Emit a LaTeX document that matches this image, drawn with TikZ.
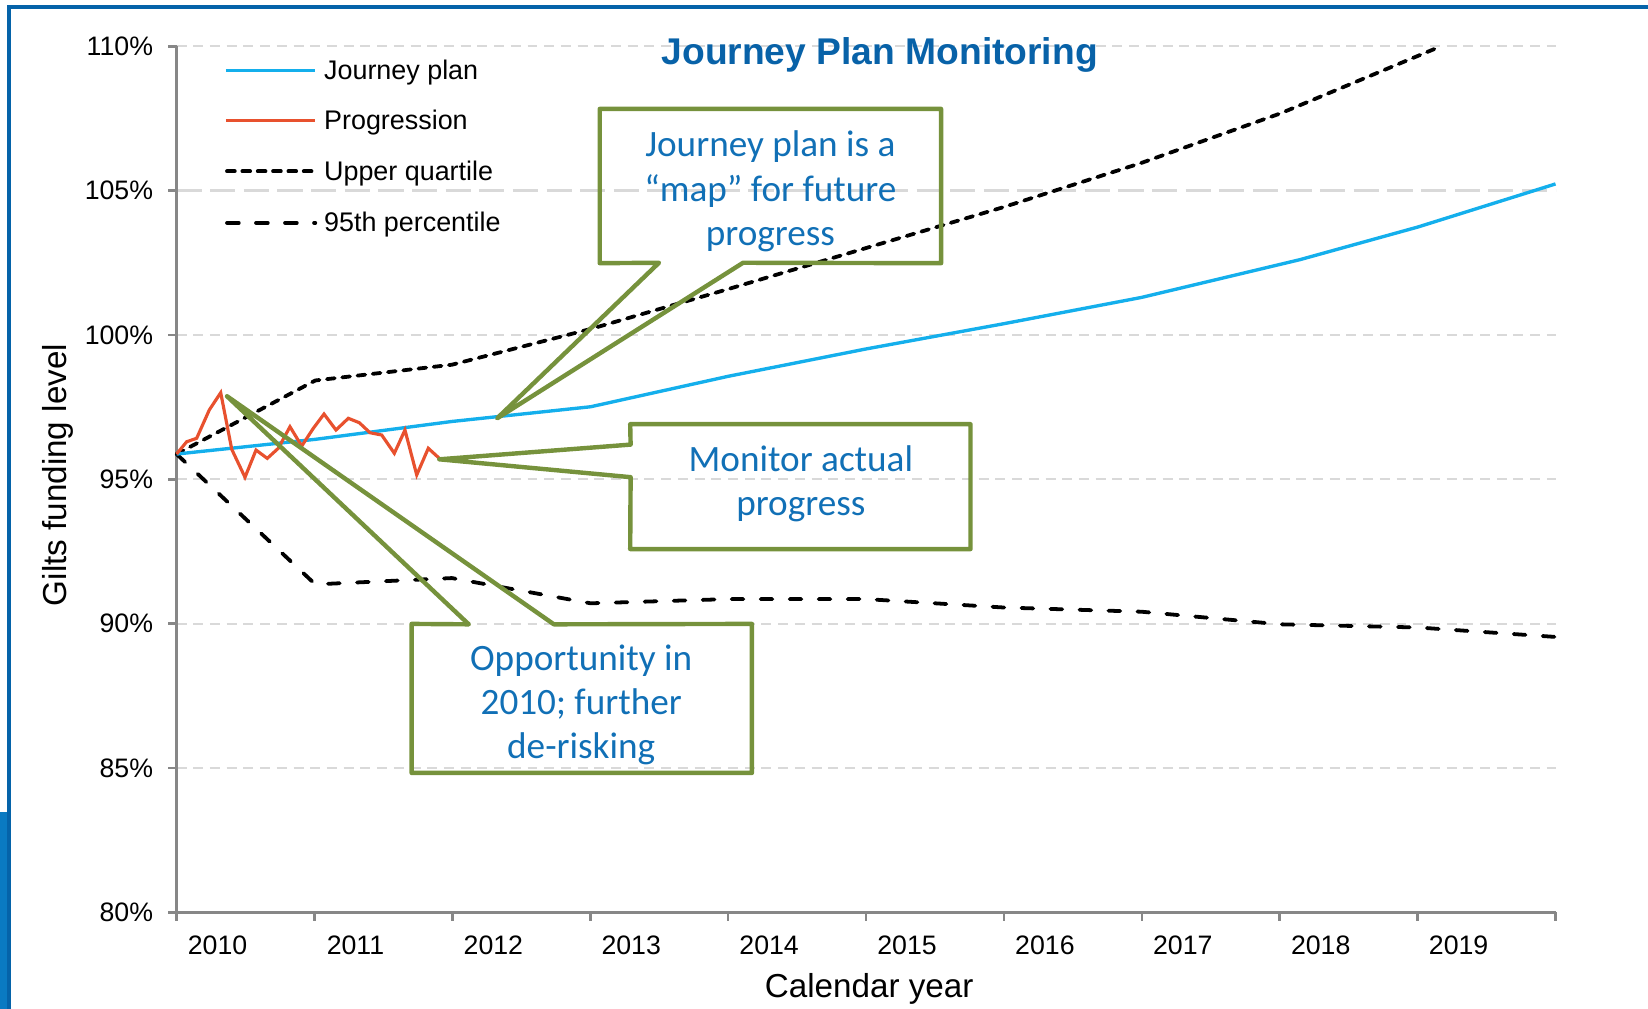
\documentclass[tikz,border=0pt]{standalone}
\usepackage{fontspec}
\setmainfont{Liberation Sans}
\newfontfamily\calib{Carlito}
\definecolor{frameblue}{HTML}{0563A9}
\definecolor{framefill}{HTML}{0A7AC2}
\definecolor{titleblue}{HTML}{0862A8}
\definecolor{textblue}{HTML}{1170B6}
\definecolor{jpblue}{HTML}{14AFEC}
\definecolor{progred}{HTML}{E8512E}
\definecolor{callgreen}{HTML}{76923C}
\definecolor{gridgray}{HTML}{D9D9D9}
\definecolor{axisgray}{HTML}{878787}
\tikzset{
  gridln/.style={draw=gridgray, line width=0.95pt, dash pattern=on 4.75pt off 3.2pt},
  gridlong/.style={draw=gridgray, line width=1.4pt, dash pattern=on 12pt off 4pt},
  axisln/.style={draw=axisgray, line width=1.2pt},
  ticklbl/.style={font=\fontsize{12.7}{15}\selectfont, inner sep=0pt},
  axttl/.style={font=\fontsize{15.8}{18}\selectfont, inner sep=0pt},
  jpline/.style={draw=jpblue, line width=1.6pt, line join=round},
  progline/.style={draw=progred, line width=1.5pt, line join=miter},
  uqline/.style={draw=black, line width=1.8pt, line cap=round, dash pattern=on 3.7pt off 3.6pt},
  pctline/.style={draw=black, line width=1.8pt, line cap=round, dash pattern=on 5.6pt off 8.2pt},
  cbox/.style={fill=none, draw=none, inner sep=0pt},
  cline/.style={draw=callgreen, line width=2.1pt, line join=round},
  ctext/.style={font=\calib\fontsize{17.7}{21}\selectfont, text=textblue, align=center, inner sep=0pt},
  legtext/.style={font=\fontsize{12.8}{15}\selectfont, anchor=west, inner sep=0pt},
}
\begin{document}
\begin{tikzpicture}[x=0.5pt,y=-0.5pt]
\useasboundingbox (0,0) rectangle (1568,960);
% frame
\fill[framefill] (0,773) rectangle (8,960);
\draw[frameblue, line width=1.75pt] (8.7,960) -- (8.7,6.5) -- (1568,6.5);
% grid
\foreach \yy in {44,318.7,456,593.3,730.7} {\draw[gridln] (168,\yy) -- (1480,\yy);}
\draw[gridlong] (168,181.3) -- (1480,181.3);
% axes
\draw[axisln] (168,44) -- (168,876);
\draw[axisln] (160,868) -- (1480,868);
\foreach \yy in {44,181.3,318.7,456,593.3,730.7} {\draw[axisln] (160,\yy) -- (168,\yy);}
\foreach \k in {1,...,10} {\draw[axisln] ({168+131.2*\k},868) -- ({168+131.2*\k},876);}
% y labels
\node[ticklbl, anchor=east] (y110) at (146,44) {110\%};
\node[ticklbl, anchor=east] (y105) at (146,181.3) {105\%};
\node[ticklbl, anchor=east] (y100) at (146,318.7) {100\%};
\node[ticklbl, anchor=east] (y95) at (146,456) {95\%};
\node[ticklbl, anchor=east] (y90) at (146,593.3) {90\%};
\node[ticklbl, anchor=east] (y85) at (146,730.7) {85\%};
\node[ticklbl, anchor=east] (y80) at (146,868) {80\%};
% x labels
\foreach \k/\yr in {0/2010,1/2011,2/2012,3/2013,4/2014,5/2015,6/2016,7/2017,8/2018,9/2019} {
  \node[ticklbl] (x\yr) at ({207+131.2*\k},899) {\yr};
}
\node[axttl] (xttl) at (827,941) {Calendar year};
\node[axttl, rotate=90] (yttl) at (55,452) {Gilts funding level};
% data
\draw[pctline] (168,432) -- (300,556) -- (430,550) -- (562,574) -- (693,570) -- (824,570) -- (955,578) -- (1086,582) -- (1218,594) -- (1349,597) -- (1480,606);
\draw[uqline] (168,432) -- (300,362) -- (430,347) -- (562,313) -- (693,275) -- (824,236) -- (955,197) -- (1086,155) -- (1218,108) -- (1371,44);
\draw[jpline] (168,432) -- (300,418) -- (430,401) -- (562,387) -- (693,358) -- (824,332) -- (955,308) -- (1086,283) -- (1237,247) -- (1349,216) -- (1480,175);
\draw[progline] (168,432) -- (177.6,420.3) -- (187.1,417) -- (199.1,390.1) -- (210,373.6) -- (220.5,427.5) -- (233.1,454.1) -- (243.6,428.2) -- (254.3,436.1) -- (264.8,426.5) -- (275.9,406) -- (287.1,424.4) -- (298.1,407.5) -- (308.3,393.9) -- (319.7,409.1) -- (331.4,398) -- (341.9,402.2) -- (352,411.7) -- (363.2,413.9) -- (375.2,431.3) -- (385.3,409.1) -- (396.5,451.9) -- (407.5,426.5) -- (418,436.1);
% callout boxes
\node[cbox, minimum width=162pt, minimum height=73pt] (b1) at (733,177) {};
\node[cbox, minimum width=161.5pt, minimum height=59pt] (b2) at (761.5,463) {};
\node[cbox, minimum width=161.5pt, minimum height=70.5pt] (b3) at (553.5,664.5) {};
\coordinate (t1) at (473,398);
\coordinate (p1a) at (627,250);
\coordinate (p1b) at (707,250);
\coordinate (t2) at (418,437);
\coordinate (p2a) at (600,423);
\coordinate (p2b) at (600,454);
\coordinate (t3) at (216,377);
\coordinate (p3a) at (446,594);
\coordinate (p3b) at (527,594);
\draw[cline] (p1a) -- (b1.south west) -- (b1.north west) -- (b1.north east) -- (b1.south east) -- (p1b) -- (t1) -- cycle;
\draw[cline] (p2a) -- (b2.north west) -- (b2.north east) -- (b2.south east) -- (b2.south west) -- (p2b) -- (t2) -- cycle;
\draw[cline] (p3b) -- (b3.north east) -- (b3.south east) -- (b3.south west) -- (b3.north west) -- (p3a) -- (t3) -- cycle;
\node[ctext] (c1) at (733,182) {Journey plan is a\\“map” for future\\progress};
\node[ctext] (c2) at (762,460) {Monitor actual\\progress};
\node[ctext] (c3) at (553,671) {Opportunity in\\2010; further\\de-risking};
% legend
\draw[jpline] (215,67) -- (300,67);
\draw[progline] (215,115) -- (300,115);
\draw[uqline] (216,163) -- (300,163);
\draw[pctline] (216,212) -- (300,212);
\node[legtext] (l1) at (308,69) {Journey plan};
\node[legtext] (l2) at (308,117) {Progression};
\node[legtext] (l3) at (308,165) {Upper quartile};
\node[legtext] (l4) at (308,214) {95th percentile};
% title
\node[font=\bfseries\fontsize{17.7}{21}\selectfont, text=titleblue, inner sep=0pt] (title) at (837,52) {Journey Plan Monitoring};
\end{tikzpicture}
\end{document}
